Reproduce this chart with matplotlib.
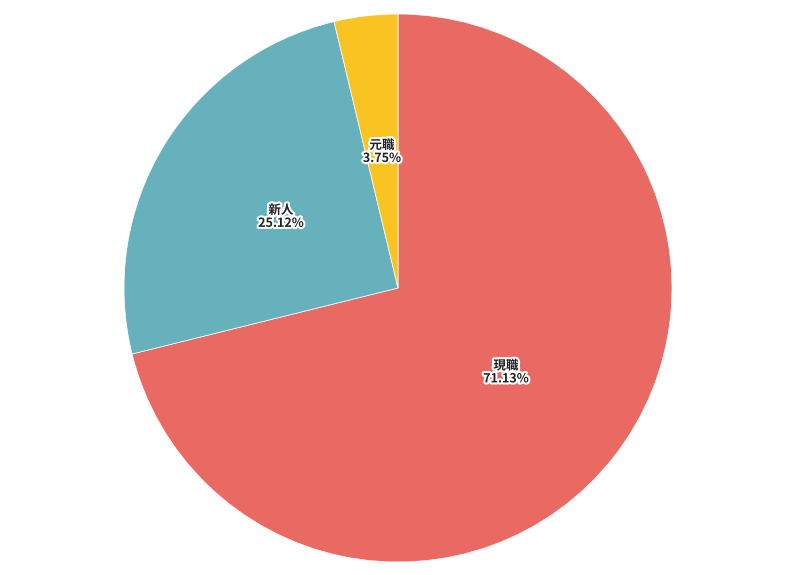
import matplotlib
matplotlib.use("Agg")
import matplotlib.pyplot as plt
import matplotlib.patheffects as pe

plt.rcParams['font.family'] = ['Noto Sans CJK JP', 'DejaVu Sans']

# data
names = ['現職', '新人', '元職']
values = [71.13, 25.12, 3.75]
colors = ['#E96A63', '#67B1BC', '#F9C422']

fig = plt.figure(figsize=(7.94, 5.75), dpi=100)
# pie center ~ (398, 288) px, radius ~ 274 px
ax = fig.add_axes([(398 - 274) / 794, (575 - 288 - 274) / 575, 548 / 794, 548 / 575])

label_iter = iter(names)
def fmt(p):
    return f"{next(label_iter)}\n{p:.2f}%"

wedges, texts, autotexts = ax.pie(
    values, colors=colors, startangle=90, counterclock=False,
    autopct=fmt, pctdistance=0.5, radius=1.0,
    wedgeprops=dict(linewidth=0.5, edgecolor='white'))

for t in autotexts:
    t.set_fontsize(9)
    t.set_fontweight('bold')
    t.set_color('#222222')
    t.set_linespacing(1.0)
    t.set_path_effects([pe.withStroke(linewidth=3, foreground='white')])

ax.set_xlim(-1, 1)
ax.set_ylim(-1, 1)
ax.axis('off')

fig.savefig('out.png', dpi=100)
